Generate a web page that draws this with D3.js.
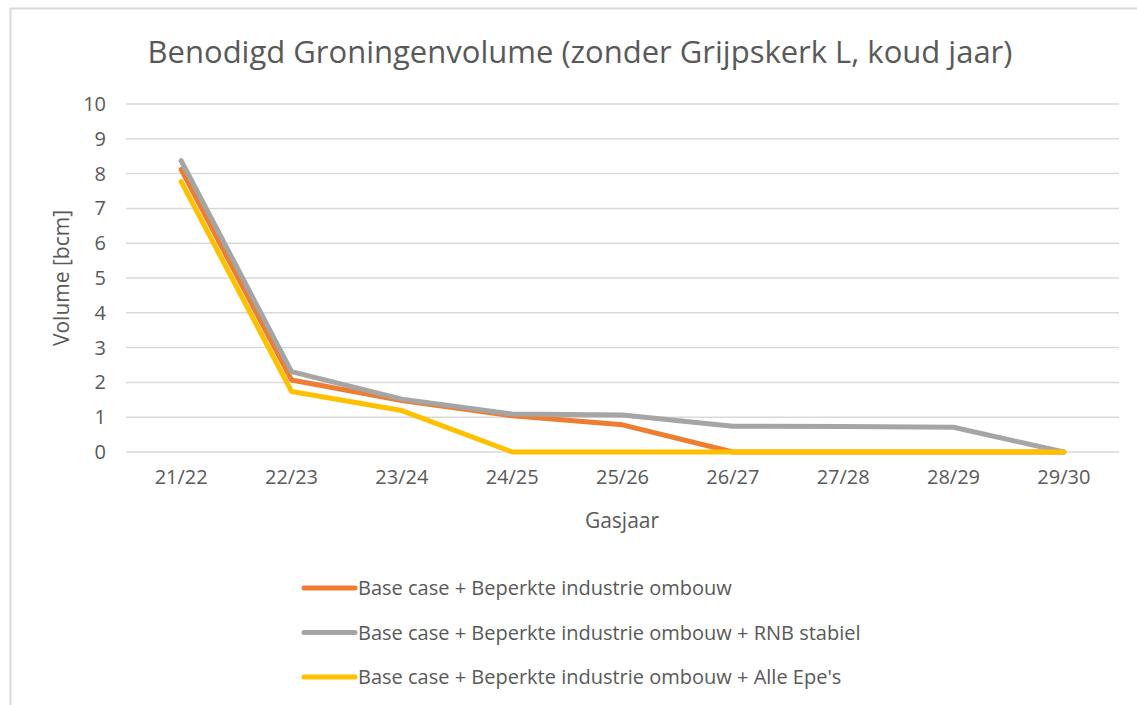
<!DOCTYPE html>
<html>
<head>
<meta charset="utf-8">
<script src="https://cdn.jsdelivr.net/npm/d3@7"></script>
<style>
  body { margin: 0; background: #fff; }
  text { font-family: "Open Sans", "Noto Sans", sans-serif; fill: #595959; }
</style>
</head>
<body>
<div id="main"></div>
<script>
// categories + series
var years = ["21/22", "22/23", "23/24", "24/25", "25/26", "26/27", "27/28", "28/29", "29/30"];
var baseCase = [8.12, 2.07, 1.48, 1.04, 0.78, 0, 0, 0, 0];
var rnbStabiel = [8.37, 2.31, 1.52, 1.09, 1.06, 0.74, 0.73, 0.71, 0];
var alleEpes = [7.77, 1.74, 1.19, 0, 0, 0, 0, 0, 0];
var yTicks = [0, 1, 2, 3, 4, 5, 6, 7, 8, 9, 10];

var seriesNames = [
  "Base case + Beperkte industrie ombouw",
  "Base case + Beperkte industrie ombouw + RNB stabiel",
  "Base case + Beperkte industrie ombouw + Alle Epe's"
];
var seriesColors = ["#ED7D31", "#A5A5A5", "#FFC000"];
var series = [baseCase, rnbStabiel, alleEpes];

var svgContainer = d3.select("#main").append("svg")
    .attr("width", 1137)
    .attr("height", 705);

// chart frame (only left + top visible in the crop)
svgContainer.append("path")
    .attr("d", "M10.5,705 L10.5,8.5 L1137,8.5")
    .attr("fill", "none")
    .attr("stroke", "#d9d9d9")
    .attr("stroke-width", 2);

var plot = { left: 126, right: 1119, top: 104, bottom: 452 };

var x = d3.scaleBand()
    .domain(years)
    .range([plot.left, plot.right]);

var y = d3.scaleLinear()
    .domain([0, 10])
    .range([plot.bottom, plot.top]);

// gridlines
svgContainer.append("g")
  .selectAll("line")
  .data(yTicks)
  .enter().append("line")
    .attr("x1", plot.left)
    .attr("x2", plot.right)
    .attr("y1", d => y(d))
    .attr("y2", d => y(d))
    .attr("stroke", "#d9d9d9")
    .attr("stroke-width", 1.5);

// y axis labels
var yAxis = d3.axisLeft(y).tickValues(yTicks).tickSize(0).tickPadding(0);
var gy = svgContainer.append("g")
    .attr("transform", "translate(106,0)")
    .call(yAxis);
gy.select(".domain").remove();
gy.selectAll("text")
    .style("font-size", "20px")
    .attr("fill", "#595959");

// x axis labels
var xAxis = d3.axisBottom(x).tickSize(0).tickPadding(0);
var gx = svgContainer.append("g")
    .attr("transform", "translate(0,470)")
    .call(xAxis);
gx.select(".domain").remove();
gx.selectAll("text")
    .style("font-size", "20px")
    .attr("fill", "#595959");

// the lines
var line = d3.line()
    .x((d, i) => x(years[i]) + x.bandwidth() / 2)
    .y(d => y(d));

svgContainer.append("g")
  .selectAll("path")
  .data(series)
  .enter().append("path")
    .attr("d", d => line(d))
    .attr("fill", "none")
    .attr("stroke", (d, i) => seriesColors[i])
    .attr("stroke-width", 5)
    .attr("stroke-linejoin", "round")
    .attr("stroke-linecap", "round");

// titles
svgContainer.append("text")
    .attr("x", 580)
    .attr("y", 63)
    .attr("text-anchor", "middle")
    .style("font-size", "31px")
    .text("Benodigd Groningenvolume (zonder Grijpskerk L, koud jaar)");

svgContainer.append("text")
    .attr("transform", "translate(69,278) rotate(-90)")
    .attr("text-anchor", "middle")
    .style("font-size", "21px")
    .text("Volume [bcm]");

svgContainer.append("text")
    .attr("x", 622)
    .attr("y", 528)
    .attr("text-anchor", "middle")
    .style("font-size", "21px")
    .text("Gasjaar");

// legend
var legend = svgContainer.append("g")
  .selectAll("g")
  .data(seriesNames)
  .enter().append("g")
    .attr("transform", (d, i) => "translate(302," + (588 + i * 44.5) + ")");

legend.append("line")
    .attr("x1", 2).attr("x2", 53)
    .attr("stroke", (d, i) => seriesColors[i])
    .attr("stroke-width", 5)
    .attr("stroke-linecap", "round");

legend.append("text")
    .attr("x", 56)
    .attr("dy", "0.35em")
    .style("font-size", "20px")
    .text(d => d);
</script>
</body>
</html>
